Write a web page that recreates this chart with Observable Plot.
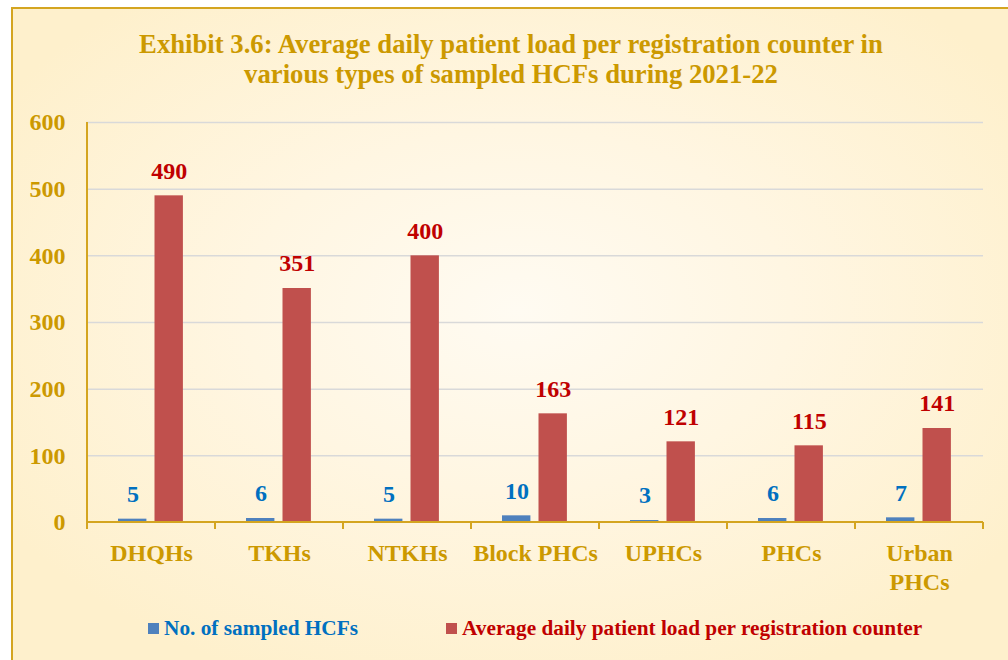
<!DOCTYPE html>
<html>
<head>
<meta charset="utf-8">
<script src="https://cdn.jsdelivr.net/npm/d3@7"></script>
<script src="https://cdn.jsdelivr.net/npm/@observablehq/plot@0.6"></script>
<style>
  html, body { margin: 0; padding: 0; background: #ffffff; width: 1008px; height: 660px; overflow: hidden; }
  #frame {
    position: absolute; left: 11px; top: 7px; width: 1010px; height: 670px;
    border-left: 2px solid #d4a520; border-top: 2px solid #d4a520;
    background: radial-gradient(ellipse 60% 60% at 50% 45%, #fffbf2 0%, #fff6e2 45%, #fef0cc 100%);
  }
  #title {
    position: absolute; left: 0; width: 1022px; top: 29px; text-align: center;
    font-family: "Liberation Serif", "Times New Roman", serif; font-weight: bold;
    font-size: 26.7px; line-height: 30px; color: #cc9900;
  }
  #chart { position: absolute; left: 0; top: 100px; }
  .legend { position: absolute; top: 614px; font-family: "Liberation Serif", serif; font-weight: bold; font-size: 21.3px; line-height: 28px; white-space: nowrap; }
  .legend .sw { display: inline-block; width: 11px; height: 11px; margin-right: 5px; vertical-align: 1px; }
</style>
</head>
<body>
<div id="frame"></div>
<div id="title">Exhibit 3.6: Average daily patient load per registration counter in<br>various types of sampled HCFs during 2021-22</div>
<div id="chart"></div>
<div class="legend" style="left:148px;color:#0070c0"><span class="sw" style="background:#4f81bd"></span>No. of sampled HCFs</div>
<div class="legend" style="left:446px;color:#c00000"><span class="sw" style="background:#c0504d"></span>Average daily patient load per registration counter</div>
<script>
const categories = ["DHQHs", "TKHs", "NTKHs", "Block PHCs", "UPHCs", "PHCs", "Urban\nPHCs"];
const sampledHCFs = [5, 6, 5, 10, 3, 6, 7];
const patientLoad = [490, 351, 400, 163, 121, 115, 141];
const yTicks = [0, 100, 200, 300, 400, 500, 600];
const gridTicks = [100, 200, 300, 400, 500, 600];

const gold = "#cc9900";
const rows = categories.map((c, i) => ({cat: c, n: sampledHCFs[i], load: patientLoad[i]}));

const chart = Plot.plot({
  width: 1008,
  height: 500,
  marginTop: 22,
  marginBottom: 78,
  marginLeft: 86,
  marginRight: 25,
  style: {background: "transparent", fontFamily: "Liberation Serif, Times New Roman, serif", fontWeight: "bold", fontSize: "24px"},
  x: {domain: categories, padding: 0, label: null},
  y: {domain: [0, 600], label: null},
  marks: [
    Plot.gridY(gridTicks, {stroke: "#d9d9d9", strokeOpacity: 1, strokeWidth: 1.5}),
    Plot.axisY(yTicks, {tickSize: 0, tickPadding: 21, fontSize: 24, fill: gold, fontWeight: "bold", label: null}),
    Plot.axisX({tickSize: 0, tickPadding: 19, fontSize: 24, fill: gold, fontWeight: "bold", lineHeight: 1.17, label: null}),
    Plot.barY(rows, {x: "cat", y: "n", fill: "#4f81bd", insetLeft: 31, insetRight: 68.6}),
    Plot.barY(rows, {x: "cat", y: "load", fill: "#c0504d", insetLeft: 67.5, insetRight: 32.1}),
    Plot.text(rows, {x: "cat", y: "n", text: d => String(d.n), dx: -18.6, dy: -25, fill: "#0070c0", fontSize: 24, fontWeight: "bold"}),
    Plot.text(rows, {x: "cat", y: "load", text: d => String(d.load), dx: 17.8, dy: -25, fill: "#c00000", fontSize: 24, fontWeight: "bold"})
  ]
});

// axis lines and category boundary ticks, positioned with the plot's own scales
const xs = chart.scale("x");
const ys = chart.scale("y");
const bw = xs.bandwidth;
const y0 = ys.apply(0), yTop = ys.apply(600);
const bounds = categories.map(c => xs.apply(c)).concat([xs.apply(categories[categories.length - 1]) + bw]);
const g = d3.select(chart).append("g").attr("stroke", "#d4a520").attr("stroke-width", 2);
g.append("line").attr("x1", bounds[0]).attr("x2", bounds[0]).attr("y1", yTop).attr("y2", y0);
g.append("line").attr("x1", bounds[0]).attr("x2", bounds[bounds.length - 1]).attr("y1", y0).attr("y2", y0);
g.selectAll("line.tk").data(bounds).join("line").attr("class", "tk")
  .attr("x1", d => d).attr("x2", d => d).attr("y1", y0).attr("y2", y0 + 7);

document.getElementById("chart").appendChild(chart);
</script>
</body>
</html>
